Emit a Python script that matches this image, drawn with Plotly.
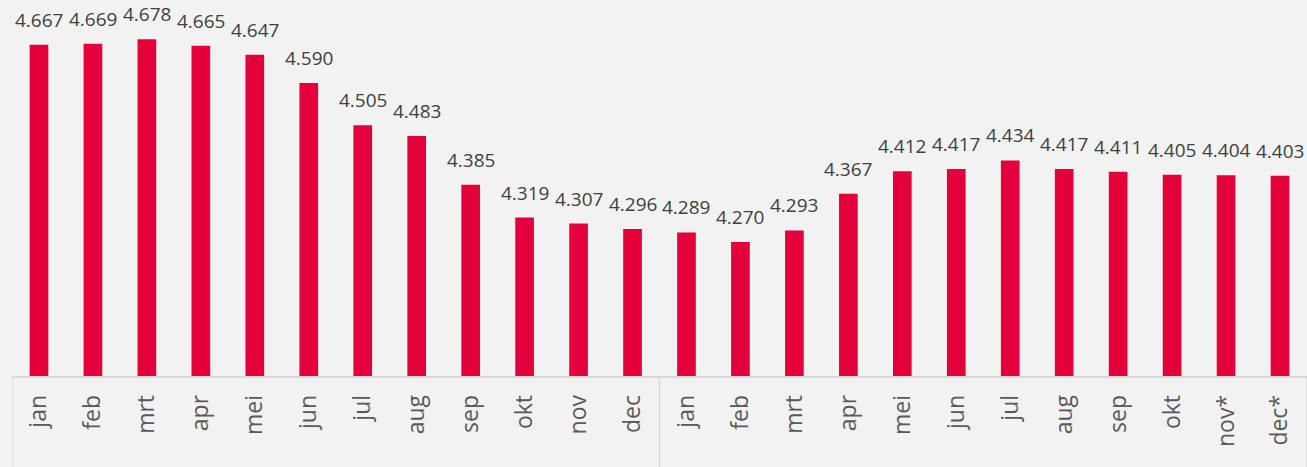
import plotly.graph_objects as go

months = ["jan", "feb", "mrt", "apr", "mei", "jun", "jul", "aug", "sep", "okt", "nov", "dec",
          "jan", "feb", "mrt", "apr", "mei", "jun", "jul", "aug", "sep", "okt", "nov*", "dec*"]
values = [4.667, 4.669, 4.678, 4.665, 4.647, 4.590, 4.505, 4.483, 4.385, 4.319, 4.307, 4.296,
          4.289, 4.270, 4.293, 4.367, 4.412, 4.417, 4.434, 4.417, 4.411, 4.405, 4.404, 4.403]
labels = [f"{v:.3f}" for v in values]
year_size = 12

xs = list(range(len(months)))

fig = go.Figure()
fig.add_trace(go.Bar(
    x=xs, y=values, marker=dict(color="#E4003B", line=dict(width=0)),
    hoverinfo="skip", showlegend=False,
))

for x, v, t in zip(xs, values, labels):
    fig.add_annotation(x=x, y=v, text=t, showarrow=False, yanchor="bottom",
                       xanchor="center", yshift=10,
                       font=dict(family="Open Sans", size=19, color="#404040"))

# year separators below the axis
for b in range(0, len(months) + 1, year_size):
    fig.add_shape(type="line", xref="x", yref="paper", x0=b - 0.5, x1=b - 0.5,
                  y0=0, y1=-0.25, line=dict(color="#D9D9D9", width=1.5))

fig.update_layout(
    width=1307, height=467,
    margin=dict(l=12, r=0, t=0, b=91),
    paper_bgcolor="#F2F2F2", plot_bgcolor="#F2F2F2",
    bargap=0.654,
    xaxis=dict(
        tickmode="array", tickvals=xs, ticktext=months, tickangle=-90,
        range=[-0.5, len(months) - 0.5],
        showline=True, linecolor="#D9D9D9", linewidth=1.5,
        showgrid=False, zeroline=False, ticks="", ticklabelstandoff=8,
        tickfont=dict(family="Open Sans", size=23, color="#595959"),
    ),
    yaxis=dict(range=[4.0, 4.757], visible=False, showgrid=False, zeroline=False),
)

fig.write_html("out.html", config={"displayModeBar": False},
               post_script="document.body.style.margin='0';document.body.style.overflow='hidden';")
